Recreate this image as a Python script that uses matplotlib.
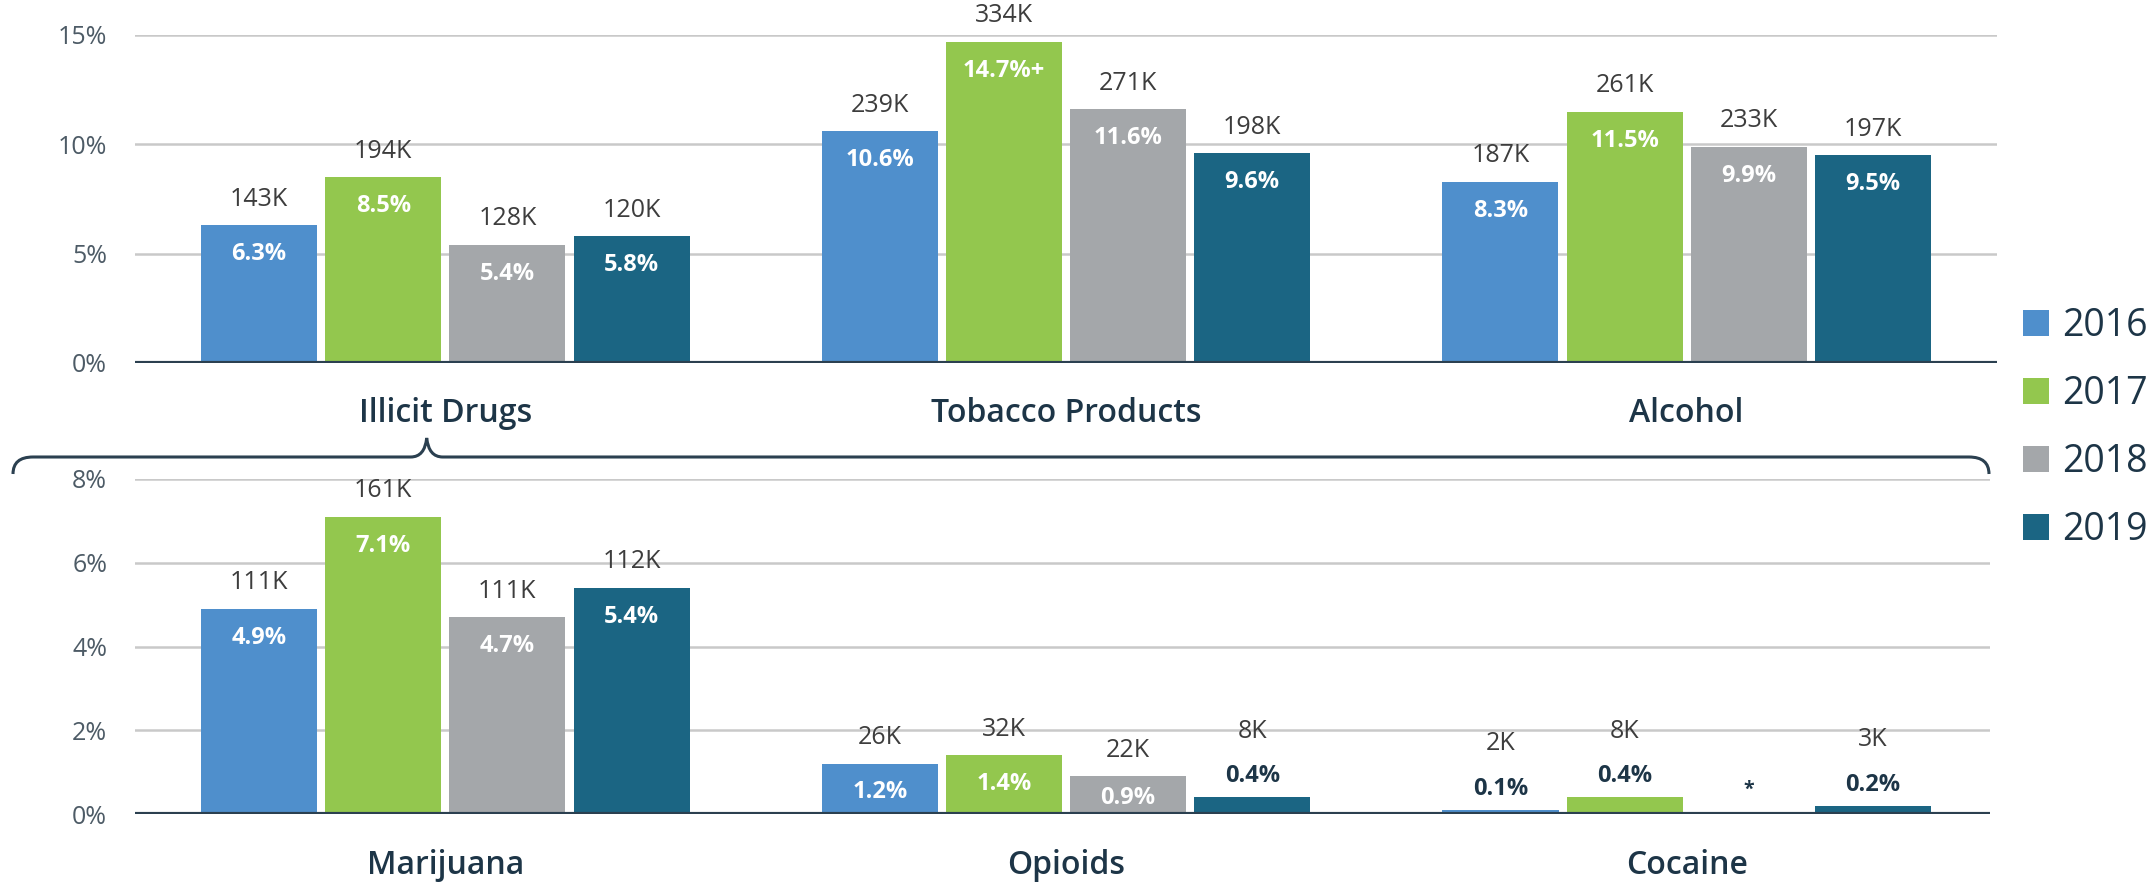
import numpy as np
import matplotlib.pyplot as plt
from matplotlib.patches import Patch, PathPatch
from matplotlib.path import Path

plt.rcParams['font.family'] = ['Open Sans', 'DejaVu Sans']

years = ["2016", "2017", "2018", "2019"]
colors = ["#4f8fcc", "#93c74e", "#a4a7aa", "#1b6583"]

# upper panel
top_cats = ["Illicit Drugs", "Tobacco Products", "Alcohol"]
top_pct = [
    [6.3, 10.6, 8.3],
    [8.5, 14.7, 11.5],
    [5.4, 11.6, 9.9],
    [5.8, 9.6, 9.5],
]
top_counts = [
    ["143K", "239K", "187K"],
    ["194K", "334K", "261K"],
    ["128K", "271K", "233K"],
    ["120K", "198K", "197K"],
]
top_flags = [
    ["", "", ""],
    ["", "+", ""],
    ["", "", ""],
    ["", "", ""],
]

# lower panel (illicit drugs broken down)
bot_cats = ["Marijuana", "Opioids", "Cocaine"]
bot_pct = [
    [4.9, 1.2, 0.1],
    [7.1, 1.4, 0.4],
    [4.7, 0.9, np.nan],
    [5.4, 0.4, 0.2],
]
bot_counts = [
    ["111K", "26K", "2K"],
    ["161K", "32K", "8K"],
    ["111K", "22K", ""],
    ["112K", "8K", "3K"],
]

W, H = 2156, 884
fig = plt.figure(figsize=(W / 100, H / 100), dpi=100)

ax_top = fig.add_axes([135 / W, 1 - 363 / H, (1997 - 135) / W, (363 - 35) / H])
ax_bot = fig.add_axes([135 / W, 1 - 814 / H, (1990 - 135) / W, (814 - 479) / H])

navy = "#1d3547"
axis_col = "#2b4050"
px = 0.72  # points per pixel


def draw_panel(ax, cats, pct, counts, flags, ymax, step, xmax):
    x = np.arange(len(cats))
    ax.set_xlim(-0.5, xmax)
    ax.set_ylim(0, ymax)
    ax.set_yticks(np.arange(0, ymax + 0.01, step))
    ax.set_yticklabels([f"{int(t)}%" for t in ax.get_yticks()])
    ax.set_xticks([])
    ax.yaxis.grid(True, color="#c9c9c9", lw=1.8)
    ax.set_axisbelow(True)
    for s in ax.spines.values():
        s.set_visible(False)
    ax.tick_params(axis="y", length=0, pad=20, labelsize=18, labelcolor="#4d5b66")
    ax.axhline(0, color=axis_col, lw=3, zorder=3)

    bbox = ax.get_position()
    px_per_unit = bbox.height * H / ymax

    offsets = [-0.3, -0.1, 0.1, 0.3]
    for k in range(len(years)):
        xs = x + offsets[k]
        ax.bar(xs, pct[k], width=0.187, color=colors[k], zorder=2)
        for j in range(len(cats)):
            v = pct[k][j]
            if np.isnan(v):
                ax.annotate("*", (xs[j], 0), xytext=(0, 24 * px), textcoords="offset points",
                            ha="center", va="center", fontsize=14, color=navy, fontweight="bold")
                continue
            h = v * px_per_unit
            label = f"{v}%{flags[k][j] if flags else ''}"
            if v < 0.5:
                ax.annotate(label, (xs[j], v), xytext=(0, 21 * px), textcoords="offset points",
                            ha="center", va="center", fontsize=17, color=navy, fontweight="bold")
                ax.annotate(counts[k][j], (xs[j], v), xytext=(0, 66 * px), textcoords="offset points",
                            ha="center", va="center", fontsize=18, color="#3d3d3d")
            else:
                off = min(29, h / 2 + 3)
                ax.annotate(label, (xs[j], v), xytext=(0, -off * px), textcoords="offset points",
                            ha="center", va="center", fontsize=17, color="white", fontweight="bold")
                ax.annotate(counts[k][j], (xs[j], v), xytext=(0, 26 * px), textcoords="offset points",
                            ha="center", va="center", fontsize=18, color="#3d3d3d",
                            annotation_clip=False)
    for j, c in enumerate(cats):
        ax.annotate(c, (x[j], 0), xytext=(0, -51 * px), textcoords="offset points",
                    ha="center", va="center", fontsize=23, color=navy, fontweight="semibold",
                    annotation_clip=False)


draw_panel(ax_top, top_cats, top_pct, top_counts, top_flags, 15, 5, 2.5)
draw_panel(ax_bot, bot_cats, bot_pct, bot_counts, None, 8, 2, 2.5 - 7 / 620.5)

# brace linking "Illicit Drugs" to its breakdown
tip_x = ax_top.transData.transform((-0.03, 0))[0]
yl, yt = 457, 438
L, R = 13, 1989
verts = [(L, 474), (L, yl), (L + 20, yl),
         (tip_x - 16, yl), (tip_x - 2, yl), (tip_x, yt),
         (tip_x + 2, yl), (tip_x + 16, yl),
         (R - 20, yl), (R, yl), (R, 474)]
codes = [Path.MOVETO, Path.CURVE3, Path.CURVE3,
         Path.LINETO, Path.CURVE3, Path.CURVE3,
         Path.CURVE3, Path.CURVE3,
         Path.LINETO, Path.CURVE3, Path.CURVE3]
verts = [(vx / W, 1 - vy / H) for vx, vy in verts]
fig.add_artist(PathPatch(Path(verts, codes), transform=fig.transFigure,
                         fill=False, edgecolor=axis_col, lw=2.2))

handles = [Patch(facecolor=c, label=y) for c, y in zip(colors, years)]
fig.legend(handles=handles, loc="center left", bbox_to_anchor=(2023 / W, 1 - 428 / H),
           frameon=False, fontsize=27, labelcolor=navy, handlelength=0.7, handleheight=0.7,
           handletextpad=0.35, labelspacing=0.8, borderpad=0, borderaxespad=0)

fig.savefig("out.png", dpi=100)
